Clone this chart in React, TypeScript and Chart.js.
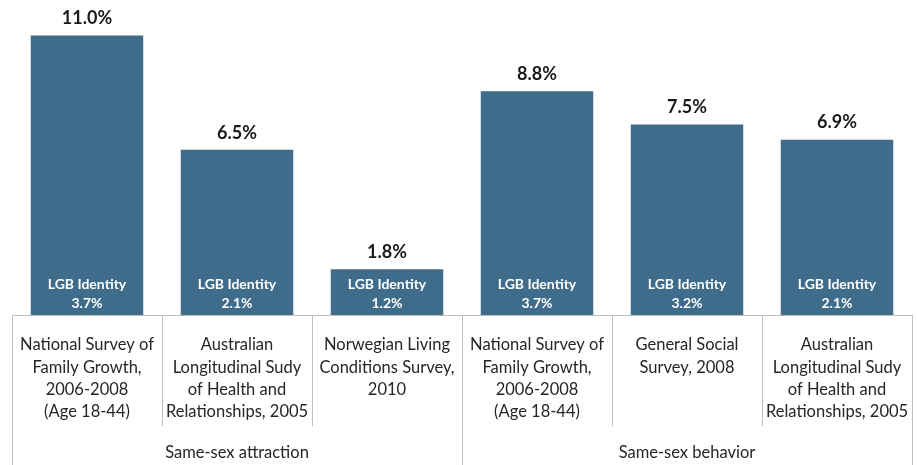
import React, { useEffect, useRef } from "react";
import { Chart, registerables } from "chart.js";

Chart.register(...registerables);

const categories: string[][] = [
  ["National Survey of", "Family Growth,", "2006-2008", "(Age 18-44)"],
  ["Australian", "Longitudinal Sudy", "of Health and", "Relationships, 2005"],
  ["Norwegian Living", "Conditions Survey,", "2010"],
  ["National Survey of", "Family Growth,", "2006-2008", "(Age 18-44)"],
  ["General Social", "Survey, 2008"],
  ["Australian", "Longitudinal Sudy", "of Health and", "Relationships, 2005"],
];
const totals: number[] = [11.0, 6.5, 1.8, 8.8, 7.5, 6.9];
const lgbIdentity: number[] = [3.7, 2.1, 1.2, 3.7, 3.2, 2.1];
const groupNames: string[] = ["Same-sex attraction", "Same-sex behavior"];
const groupSizes: number[] = [3, 3];

const FONT = "Lato, 'Open Sans', sans-serif";
const LINE = "#bfbfbf";

const labelPlugin = {
  id: "customLabels",
  afterDatasetsDraw(chart: any) {
    const ctx = chart.ctx;
    const meta = chart.getDatasetMeta(0);
    const area = chart.chartArea;
    const xs = chart.scales.x;
    const H = chart.height;
    ctx.save();
    // bar labels
    meta.data.forEach((bar: any, i: number) => {
      ctx.textAlign = "center";
      ctx.textBaseline = "middle";
      ctx.fillStyle = "#1a1a1a";
      ctx.font = `bold 18px ${FONT}`;
      ctx.fillText(totals[i].toFixed(1) + "%", bar.x, bar.y - 17);
      ctx.fillStyle = "#ffffff";
      ctx.font = `bold 14px ${FONT}`;
      ctx.fillText("LGB Identity", bar.x, area.bottom - 31);
      ctx.fillText(lgbIdentity[i].toFixed(1) + "%", bar.x, area.bottom - 12);
    });
    // axis line
    ctx.strokeStyle = LINE;
    ctx.lineWidth = 1;
    ctx.beginPath();
    ctx.moveTo(area.left, area.bottom + 0.5);
    ctx.lineTo(area.right, area.bottom + 0.5);
    ctx.stroke();
    // separators
    const n = totals.length;
    const half = (xs.getPixelForValue(1) - xs.getPixelForValue(0)) / 2;
    const groupEdges = new Set<number>();
    let acc = 0;
    groupEdges.add(0);
    groupSizes.forEach((s) => {
      acc += s;
      groupEdges.add(acc);
    });
    for (let k = 0; k <= n; k++) {
      const x = Math.round(
        k < n ? xs.getPixelForValue(k) - half : xs.getPixelForValue(n - 1) + half
      ) + 0.5;
      ctx.beginPath();
      ctx.moveTo(x, area.bottom);
      ctx.lineTo(x, groupEdges.has(k) ? H : area.bottom + 111);
      ctx.stroke();
    }
    // category labels
    ctx.fillStyle = "#262626";
    ctx.font = `16.5px ${FONT}`;
    ctx.textAlign = "center";
    ctx.textBaseline = "middle";
    categories.forEach((lines, i) => {
      const x = xs.getPixelForValue(i);
      lines.forEach((t, j) => {
        ctx.fillText(t, x, area.bottom + 30 + j * 22.3);
      });
    });
    // group labels
    let start = 0;
    groupSizes.forEach((s, g) => {
      const x0 = xs.getPixelForValue(start) - half;
      const x1 = xs.getPixelForValue(start + s - 1) + half;
      ctx.fillText(groupNames[g], (x0 + x1) / 2, area.bottom + 138);
      start += s;
    });
    ctx.restore();
  },
};

export default function App() {
  const ref = useRef<HTMLCanvasElement>(null);
  useEffect(() => {
    if (!ref.current) return;
    const chart = new Chart(ref.current, {
      type: "bar",
      data: {
        labels: categories.map((c) => c.join(" ")),
        datasets: [
          {
            data: totals,
            backgroundColor: "#406c8b",
            borderWidth: 0,
            barPercentage: 0.75,
            categoryPercentage: 1,
          },
        ],
      },
      options: {
        responsive: false,
        animation: false,
        layout: { padding: { left: 12, right: 5, top: 10, bottom: 150 } },
        plugins: { legend: { display: false }, tooltip: { enabled: false } },
        scales: {
          x: { display: false },
          y: { display: false, min: 0, max: 12 },
        },
      },
      plugins: [labelPlugin],
    });
    return () => chart.destroy();
  }, []);
  return (
    <div style={{ position: "fixed", left: 0, top: 0, width: 917, height: 465, background: "#fff" }}>
      <canvas ref={ref} width={917} height={465} style={{ display: "block" }} />
    </div>
  );
}
